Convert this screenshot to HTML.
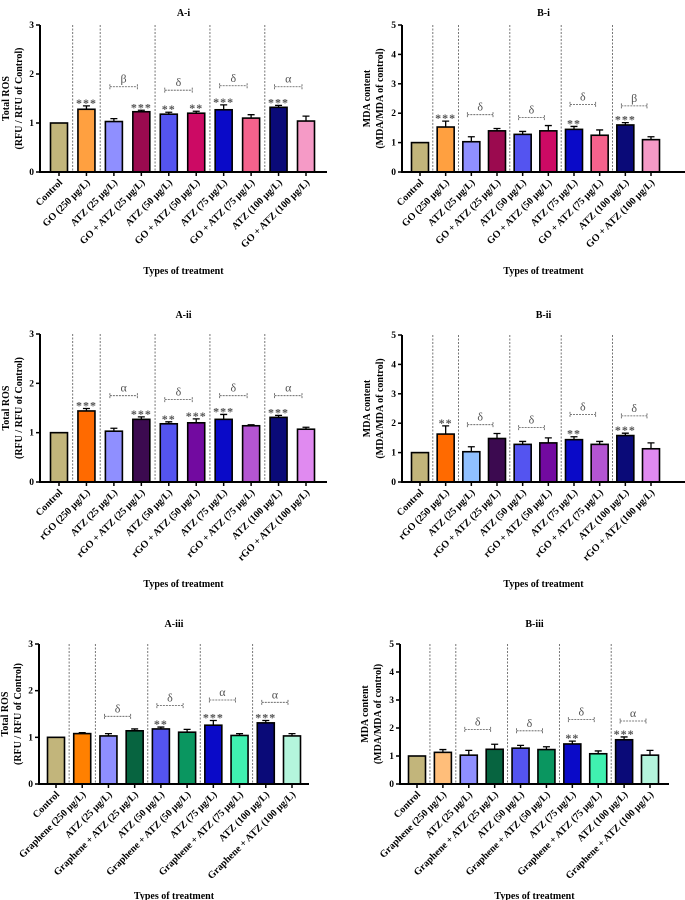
<!DOCTYPE html>
<html><head><meta charset="utf-8">
<style>
html,body{margin:0;padding:0;background:#fff;}
svg{display:block;font-family:"Liberation Serif",serif;}
</style></head>
<body>
<svg id="fig" width="685" height="900" viewBox="0 0 685 900" xmlns="http://www.w3.org/2000/svg"></svg>
<script>
// ---------- data ----------
const labelsGO = ["Control","GO (250 μg/L)","ATZ (25 μg/L)","GO + ATZ (25 μg/L)","ATZ (50 μg/L)","GO + ATZ (50 μg/L)","ATZ (75 μg/L)","GO + ATZ (75 μg/L)","ATZ (100 μg/L)","GO + ATZ (100 μg/L)"];
const labelsRGO = ["Control","rGO (250 μg/L)","ATZ (25 μg/L)","rGO + ATZ (25 μg/L)","ATZ (50 μg/L)","rGO + ATZ (50 μg/L)","ATZ (75 μg/L)","rGO + ATZ (75 μg/L)","ATZ (100 μg/L)","rGO + ATZ (100 μg/L)"];
const labelsGR = ["Control","Graphene (250 μg/L)","ATZ (25 μg/L)","Graphene + ATZ (25 μg/L)","ATZ (50 μg/L)","Graphene + ATZ (50 μg/L)","ATZ (75 μg/L)","Graphene + ATZ (75 μg/L)","ATZ (100 μg/L)","Graphene + ATZ (100 μg/L)"];

const valsAi = [1,1.28,1.03,1.23,1.18,1.2,1.27,1.1,1.32,1.04];
const errAi = [0,.07,.06,.03,.04,.04,.1,.07,.04,.1];
const starsAi = ["","***","","***","**","**","***","","***",""];
const brSymAi = ["β","δ","δ","α"];
const brYAi = [1.74,1.67,1.76,1.74];

const valsBi = [1,1.53,1.03,1.4,1.28,1.4,1.45,1.25,1.6,1.1];
const errBi = [0,.2,.17,.08,.1,.18,.1,.18,.08,.1];
const starsBi = ["","***","","","","","**","","***",""];
const brSymBi = ["δ","δ","δ","β"];
const brYBi = [1.95,1.85,2.3,2.25];

const valsAii = [1,1.44,1.03,1.27,1.18,1.2,1.27,1.14,1.31,1.07];
const errAii = [0,.05,.06,.05,.04,.08,.1,.02,.04,.04];
const starsAii = ["","***","","***","**","***","***","","***",""];
const brSymAii = ["α","δ","δ","α"];
const brYAii = [1.75,1.67,1.75,1.75];

const valsBii = [1,1.63,1.03,1.48,1.28,1.33,1.44,1.28,1.58,1.13];
const errBii = [0,.28,.17,.17,.1,.17,.1,.1,.08,.2];
const starsBii = ["","**","","","","","**","","***",""];
const brSymBii = ["δ","δ","δ","δ"];
const brYBii = [1.95,1.85,2.3,2.25];

const valsAiii = [1,1.08,1.03,1.14,1.18,1.11,1.26,1.04,1.31,1.03];
const errAiii = [0,.02,.05,.04,.04,.06,.1,.04,.05,.05];
const starsAiii = ["","","","","**","","***","","***",""];
const brSymAiii = ["δ","δ","α","α"];
const brYAiii = [1.45,1.68,1.8,1.75];

const valsBiii = [1,1.13,1.03,1.24,1.28,1.23,1.43,1.08,1.58,1.03];
const errBiii = [0,.1,.17,.18,.1,.1,.1,.1,.1,.17];
const starsBiii = ["","","","","","","**","","***",""];
const brSymBiii = ["δ","δ","δ","α"];
const brYBiii = [1.95,1.9,2.3,2.25];

const ticksA = [0,1,2,3];
const ticksB = [0,1,2,3,4,5];

const colGO = ["#c2b57b","#ffa040","#8f8fff","#9b0a4f","#5454f0","#cc0a64","#0a0ac8","#f4628c","#0a0a78","#f59ac6"];
const colRGO = ["#c2b57b","#ff6a00","#8f8fff","#3c0a50","#5454f0","#720aa0","#0a0ac8","#b455d2","#0a0a78","#e08af0"];
const colRGOb = ["#c2b57b","#ff6a00","#90c0ff","#3c0a50","#5454f0","#720aa0","#0a0ac8","#b455d2","#0a0a78","#e08af0"];
const colGR = ["#c2b57b","#ff8000","#8f8fff","#076440","#5454f0","#0a9660","#0a0ac8","#40f0b0","#0a0a78","#b4f5dc"];
const colGRb = ["#c2b57b","#ffbe7a","#8f8fff","#076440","#5454f0","#0a9660","#0a0ac8","#40f0b0","#0a0a78","#b4f5dc"];

const NS="http://www.w3.org/2000/svg";
const svg=document.getElementById('fig');
function mk(tag,attrs,parent){const e=document.createElementNS(NS,tag);for(const k in attrs)e.setAttribute(k,attrs[k]);(parent||svg).appendChild(e);return e;}

function panel(p){
  const g=mk('g',{});
  
  
  const ymax=p.ticks[p.ticks.length-1];
  const y=v=>p.y0-(v/ymax)*(p.y0-p.yTop);
  const n=p.vals.length;
  const x=i=>p.x0+i*(p.x1-p.x0)/(n-1);
  const bw=17;
  const t=mk('text',{x:(p.ax+p.axEnd)/2,y:p.titleY,'text-anchor':'middle','font-size':10,'font-weight':'bold'},g);
  t.textContent=p.title;
  
  
  [0,1,3,5,7].forEach(i=>{
    const sx=(x(i)+x(i+1))/2;
    const l=mk('line',{x1:sx,x2:sx,y1:p.yTop,y2:p.y0,stroke:'#555','stroke-width':0.8,'stroke-dasharray':'2,1.5'},g);
    
    
  });
  p.vals.forEach((v,i)=>{
    const cx=x(i);
    const top=y(v+p.err[i]);
    if(p.err[i]>0){
      const e=mk('path',{d:`M${cx} ${y(v)}V${top}M${cx-3.5} ${top}H${cx+3.5}`,stroke:'#000','stroke-width':1.3,fill:'none'},g);
      
      
    }
    const r=mk('rect',{x:cx-bw/2,y:y(v),width:bw,height:p.y0-y(v),fill:p.colors[i],stroke:'#000','stroke-width':1.6},g);
    
    
    if(p.stars[i]){
      const s=mk('text',{x:cx,y:top+1,'text-anchor':'middle','font-size':12,'font-weight':'bold',fill:'#555','letter-spacing':'1'},g);
      s.textContent=p.stars[i];
      
      
    }
    mk('line',{x1:cx,x2:cx,y1:p.y0,y2:p.y0+4,stroke:'#000','stroke-width':1.5},g);
    const lb=mk('text',{x:0,y:0,'text-anchor':'end','font-size':10,'font-weight':'bold',transform:`translate(${cx+4},${p.y0+11}) rotate(-45)`},g);
    lb.textContent=p.labels[i];
    
    
  });
  p.brSym.forEach((sym,k)=>{
    const a=x(2+2*k)-4, b=x(3+2*k)-4, by=y(p.brY[k]);
    const br=mk('path',{d:`M${a} ${by}H${b}M${a} ${by-2.5}V${by+2.5}M${b} ${by-2.5}V${by+2.5}`,stroke:'#555','stroke-width':0.8,'stroke-dasharray':'2,1',fill:'none'},g);
    
    
    const st=mk('text',{x:(a+b)/2,y:by-4,'text-anchor':'middle','font-size':12,fill:'#555'},g);
    st.textContent=sym;
    
    
  });
  const axes=mk('path',{d:`M${p.ax} ${p.yTop}V${p.y0}H${p.axEnd}`,stroke:'#000','stroke-width':2,fill:'none'},g);
  
  
  p.ticks.forEach(tv=>{
    mk('line',{x1:p.ax-4,x2:p.ax,y1:y(tv),y2:y(tv),stroke:'#000','stroke-width':1.5},g);
    const tl=mk('text',{x:p.ax-6,y:y(tv)+3,'text-anchor':'end','font-size':9.5,'font-weight':'bold'},g);
    tl.textContent=tv;
    
    
  });
  const yc=(p.yTop+p.y0)/2;
  const yt=mk('text',{'text-anchor':'middle','font-size':10,'font-weight':'bold',transform:`translate(${p.ylx},${yc}) rotate(-90)`},g);
  
  
  const t1=mk('tspan',{x:0,dy:0},yt); t1.textContent=p.ylab[0];
  const t2=mk('tspan',{x:0,dy:13},yt); t2.textContent=p.ylab[1];
  const xt=mk('text',{x:(p.ax+p.axEnd)/2,y:p.xtY,'text-anchor':'middle','font-size':10,'font-weight':'bold'},g);
  xt.textContent='Types of treatment';
  
  
}

const yA=["Total ROS","(RFU / RFU of Control)"], yB=["MDA content","(MDA/MDA of control)"];
panel({id:'A-i',title:'A-i',vals:valsAi,err:errAi,stars:starsAi,brSym:brSymAi,brY:brYAi,ticks:ticksA,colors:colGO,labels:labelsGO,ax:40,axEnd:327,x0:59,x1:306,yTop:25,y0:172,titleY:16,xtY:274,ylx:9,ylab:yA});
panel({id:'B-i',title:'B-i',vals:valsBi,err:errBi,stars:starsBi,brSym:brSymBi,brY:brYBi,ticks:ticksB,colors:colGO,labels:labelsGO,ax:402,axEnd:685,x0:420,x1:651,yTop:25,y0:172,titleY:16,xtY:274,ylx:370,ylab:yB});
panel({id:'A-ii',title:'A-ii',vals:valsAii,err:errAii,stars:starsAii,brSym:brSymAii,brY:brYAii,ticks:ticksA,colors:colRGO,labels:labelsRGO,ax:40,axEnd:327,x0:59,x1:306,yTop:334,y0:482,titleY:318,xtY:587,ylx:9,ylab:yA});
panel({id:'B-ii',title:'B-ii',vals:valsBii,err:errBii,stars:starsBii,brSym:brSymBii,brY:brYBii,ticks:ticksB,colors:colRGOb,labels:labelsRGO,ax:402,axEnd:685,x0:420,x1:651,yTop:335,y0:482,titleY:318,xtY:587,ylx:370,ylab:yB});
panel({id:'A-iii',title:'A-iii',vals:valsAiii,err:errAiii,stars:starsAiii,brSym:brSymAiii,brY:brYAiii,ticks:ticksA,colors:colGR,labels:labelsGR,ax:39,axEnd:309,x0:56,x1:292,yTop:644,y0:784,titleY:627,xtY:899,ylx:8,ylab:yA});
panel({id:'B-iii',title:'B-iii',vals:valsBiii,err:errBiii,stars:starsBiii,brSym:brSymBiii,brY:brYBiii,ticks:ticksB,colors:colGRb,labels:labelsGR,ax:400,axEnd:669,x0:417,x1:650,yTop:644,y0:784,titleY:627,xtY:899,ylx:368,ylab:yB});
</script>
</body></html>
